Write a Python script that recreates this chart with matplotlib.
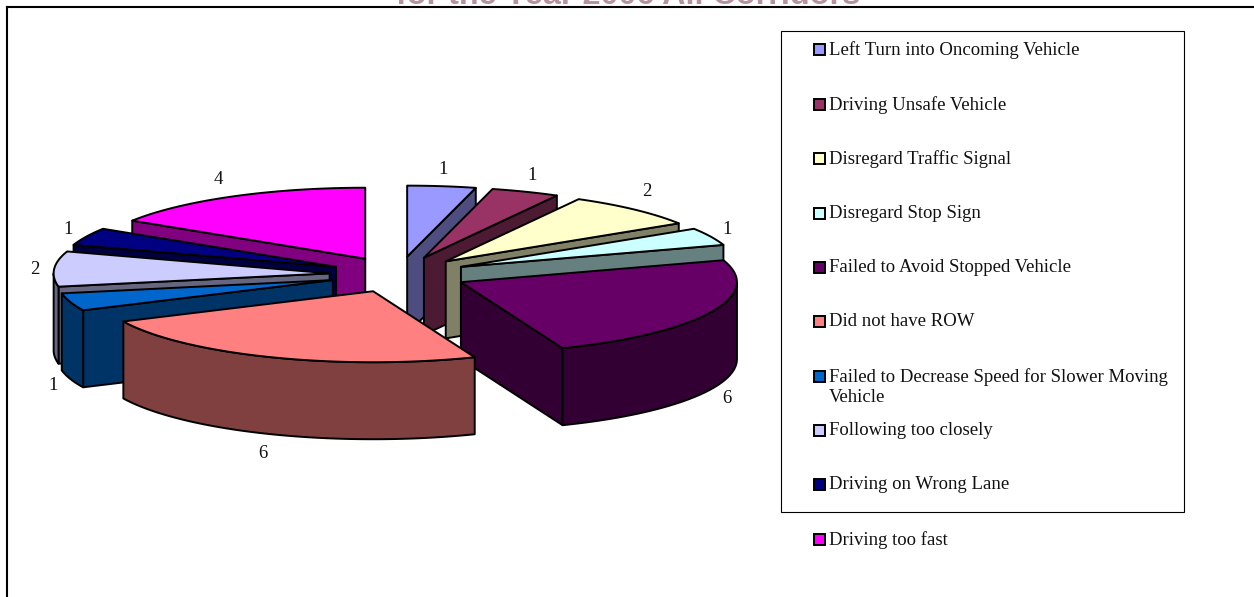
import numpy as np
import matplotlib
matplotlib.use("Agg")
import matplotlib.pyplot as plt
from matplotlib.patches import Polygon, Rectangle
from matplotlib.colors import to_rgb

categories = ["Left Turn into Oncoming Vehicle", "Driving Unsafe Vehicle",
              "Disregard Traffic Signal", "Disregard Stop Sign",
              "Failed to Avoid Stopped Vehicle", "Did not have ROW",
              "Failed to Decrease Speed for Slower Moving\nVehicle",
              "Following too closely", "Driving on Wrong Lane", "Driving too fast"]
values = [1, 1, 2, 1, 6, 6, 1, 2, 1, 4]
colors = ["#9999FF", "#993366", "#FFFFCC", "#CCFFFF", "#660066",
          "#FF8080", "#0066CC", "#CCCCFF", "#000080", "#FF00FF"]
title_text = "for the Year 2006 All Corridors"

plt.rcParams["font.family"] = ["Liberation Serif", "DejaVu Serif"]
W, H = 1254, 597
fig = plt.figure(figsize=(W / 100, H / 100), dpi=100)
ax = fig.add_axes([0, 0, 1, 1])
ax.set_xlim(0, W); ax.set_ylim(H, 0); ax.axis("off")

CX, CY, A, B, DEPTH, EX, EY = 398.5, 274.5, 276, 71, 77, 69, 18
LW = 1.4
FS = 13.5
total = sum(values)
edges = np.concatenate([[0], np.cumsum(values)]) / total * 2 * np.pi


def rim(ax0, ay0, t):
    return np.column_stack([ax0 + A * np.sin(t), ay0 - B * np.cos(t)])


order = np.argsort([-np.cos((edges[i] + edges[i + 1]) / 2) for i in range(len(values))], kind="stable")
zorder = 2
for i in order:
    t0, t1 = edges[i], edges[i + 1]
    mid = (t0 + t1) / 2
    px, py = CX + EX * np.sin(mid), CY - EY * np.cos(mid)
    top = np.array(to_rgb(colors[i]))
    dark = top * 0.5
    d = np.array([0, DEPTH])
    apex = np.array([px, py])
    walls = []
    if np.sin(t0) < -1e-6:
        e = rim(px, py, np.array([t0]))[0]
        walls.append([apex, e, e + d, apex + d])
    if np.sin(t1) > 1e-6:
        e = rim(px, py, np.array([t1]))[0]
        walls.append([apex, e, e + d, apex + d])
    lo, hi = max(t0, np.pi / 2), min(t1, 3 * np.pi / 2)
    if hi > lo:
        arc = rim(px, py, np.linspace(lo, hi, 80))
        walls.append(np.vstack([arc, (arc + d)[::-1]]))
    for w in walls:
        ax.add_patch(Polygon(np.array(w), closed=True, fc=dark, ec="black", lw=LW, zorder=zorder, joinstyle="round"))
        zorder += 1
    arc = rim(px, py, np.linspace(t0, t1, 80))
    ax.add_patch(Polygon(np.vstack([apex, arc]), closed=True, fc=top, ec="black", lw=LW, zorder=zorder, joinstyle="round"))
    zorder += 1

# value labels
label_xy = [(443, 169), (532, 175), (647, 192), (727, 230), (727, 398.5),
            (263, 453), (53, 385), (35, 270), (68, 230), (218, 179)]
for v, (x, y) in zip(values, label_xy):
    ax.text(x, y, str(v), ha="center", va="center", fontsize=FS, color="#111111", zorder=50)

# legend
ax.add_patch(Rectangle((781, 31), 403, 481, fc="none", ec="black", lw=0.8, zorder=40))
legend_y = [49, 104, 158, 213, 267, 321, 376, 430, 484, 539]
for c, lab, y in zip(colors, categories, legend_y):
    ax.add_patch(Rectangle((813.5, y - 5), 11, 11, fc=c, ec="black", lw=1.4, zorder=41))
    ax.text(829, y - 8, lab, ha="left", va="top", fontsize=FS, color="#111111",
            linespacing=1.24, zorder=42)

# frame
ax.plot([7, 7], [H, 7], color="black", lw=1.5, solid_capstyle="projecting", zorder=60)
ax.plot([7, W], [7, 7], color="black", lw=1.5, solid_capstyle="projecting", zorder=60)

# title, cut by the image's top edge as in the reference
tt = ax.text(628, 4, title_text, ha="center", va="baseline", fontsize=23.3, fontweight="bold",
             family=["Liberation Sans", "DejaVu Sans"], color="#b5929d", zorder=30)

fig.savefig("out.png", dpi=100)
